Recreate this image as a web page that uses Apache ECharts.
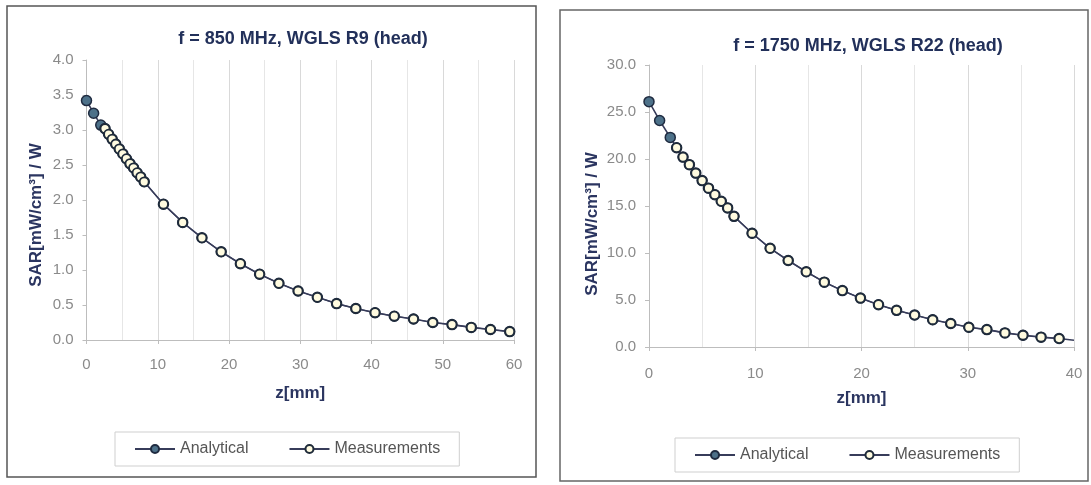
<!DOCTYPE html>
<html>
<head>
<meta charset="utf-8">
<script src="https://cdn.jsdelivr.net/npm/echarts@6/dist/echarts.min.js"></script>
<style>
  html, body { margin: 0; padding: 0; background: #fff; }
  #chart { width: 1091px; height: 485px; }
</style>
</head>
<body>
<div id="chart"></div>
<script>
// f = 850 MHz (left panel)
const leftAnaZ = [0, 1, 2];
const leftAnaV = [3.42, 3.24, 3.07];
const leftMeasZ = [2.6, 3.1, 3.6, 4.1, 4.6, 5.1, 5.6, 6.1, 6.6, 7.1, 7.6, 8.1,
  10.8, 13.5, 16.2, 18.9, 21.6, 24.3, 27.0, 29.7, 32.4, 35.1, 37.8, 40.5,
  43.2, 45.9, 48.6, 51.3, 54.0, 56.7, 59.4];
const leftMeasV = [3.02, 2.94, 2.87, 2.80, 2.73, 2.66, 2.59, 2.52, 2.46, 2.39, 2.33, 2.26,
  1.94, 1.68, 1.46, 1.26, 1.09, 0.94, 0.81, 0.70, 0.61, 0.52, 0.45, 0.39,
  0.34, 0.30, 0.25, 0.22, 0.18, 0.15, 0.12];
const leftTailZ = [60];
const leftTailV = [0.11];

// f = 1750 MHz (right panel)
const rightAnaZ = [0, 1, 2];
const rightAnaV = [26.1, 24.1, 22.3];
const rightMeasZ = [2.6, 3.2, 3.8, 4.4, 5.0, 5.6, 6.2, 6.8, 7.4, 8.0,
  9.7, 11.4, 13.1, 14.8, 16.5, 18.2, 19.9, 21.6, 23.3, 25.0, 26.7, 28.4,
  30.1, 31.8, 33.5, 35.2, 36.9, 38.6];
const rightMeasV = [21.2, 20.2, 19.4, 18.5, 17.7, 16.9, 16.2, 15.5, 14.8, 13.9,
  12.1, 10.5, 9.2, 8.0, 6.9, 6.0, 5.2, 4.5, 3.9, 3.4, 2.9, 2.5,
  2.1, 1.85, 1.5, 1.25, 1.05, 0.9];
const rightTailZ = [40];
const rightTailV = [0.72];

const titles = ['f = 850 MHz, WGLS R9 (head)', 'f = 1750 MHz, WGLS R22 (head)'];
const legendNames = ['Analytical', 'Measurements'];

const lineColor = '#373c5a';
const fontFam = 'Liberation Sans, Arial, sans-serif';

function pairs(zs, vs) {
  return zs.map((z, i) => [z, vs[i]]);
}

// analytical curve runs under the measurement markers, last point has no marker
function analytical(anaZ, anaV, measZ, measV, tailZ, tailV) {
  const pts = pairs(anaZ, anaV).concat(pairs(measZ, measV));
  const tail = pairs(tailZ, tailV).map((p) => ({ value: p, symbol: 'none' }));
  return pts.concat(tail);
}

function xAxis(idx, max, labelMargin, nameGap) {
  return {
    gridIndex: idx,
    type: 'value',
    min: 0,
    max: max,
    interval: 10,
    name: 'z[mm]',
    nameLocation: 'middle',
    nameGap: nameGap,
    nameTextStyle: { fontFamily: fontFam, fontWeight: 'bold', fontSize: 17, color: '#2b3560' },
    axisLine: { lineStyle: { color: '#bdbdbd' } },
    axisTick: { show: true, length: 4, lineStyle: { color: '#bdbdbd' } },
    axisLabel: { margin: labelMargin, fontFamily: fontFam, fontSize: 15, color: '#8a8a8a' },
    splitLine: { show: true, lineStyle: { color: '#d9d9d9' } },
    minorTick: { show: false, splitNumber: 2 },
    minorSplitLine: { show: true, lineStyle: { color: '#e6e6e6' } }
  };
}

function yAxis(idx, max, interval, nameGap, shift) {
  return {
    gridIndex: idx,
    type: 'value',
    min: 0,
    max: max,
    interval: interval,
    name: 'SAR[mW/cm³] / W',
    nameLocation: 'middle',
    nameGap: nameGap,
    nameTextStyle: {
      fontFamily: fontFam, fontWeight: 'bold', fontSize: 17, color: '#2b3560',
      padding: [0, shift, 0, 0]
    },
    axisLine: { show: true, lineStyle: { color: '#bdbdbd' } },
    axisTick: { show: true, length: 4, lineStyle: { color: '#bdbdbd' } },
    axisLabel: {
      margin: 13,
      fontFamily: fontFam,
      fontSize: 15,
      color: '#8a8a8a',
      formatter: (v) => v.toFixed(1)
    },
    splitLine: { show: false }
  };
}

function seriesPair(idx, anaData, measData) {
  return [{
    name: 'Analytical',
    type: 'line',
    xAxisIndex: idx,
    yAxisIndex: idx,
    data: anaData,
    symbol: 'circle',
    symbolSize: 10,
    showSymbol: true,
    itemStyle: { color: '#4d7189', borderColor: '#1f2b40', borderWidth: 1.5 },
    lineStyle: { color: lineColor, width: 1.6 },
    z: 2
  }, {
    name: 'Measurements',
    type: 'line',
    xAxisIndex: idx,
    yAxisIndex: idx,
    data: measData,
    symbol: 'circle',
    symbolSize: 9,
    showSymbol: true,
    itemStyle: { color: '#fffbe0', borderColor: '#1f2b3a', borderWidth: 1.8 },
    lineStyle: { color: lineColor, width: 1.2 },
    z: 3
  }];
}

function legend(left, top) {
  return {
    data: legendNames,
    left: left,
    top: top,
    orient: 'horizontal',
    itemWidth: 40,
    itemHeight: 10,
    itemGap: 40,
    padding: [9, 19, 9, 19],
    borderColor: '#cfcfcf',
    borderWidth: 1,
    textStyle: { fontFamily: fontFam, fontSize: 16, color: '#555' }
  };
}

const chart = echarts.init(document.getElementById('chart'), null, { renderer: 'canvas' });

chart.setOption({
  animation: false,
  backgroundColor: '#fff',
  graphic: [{
    type: 'rect',
    shape: { x: 7, y: 6, width: 529, height: 471 },
    style: { fill: 'none', stroke: '#555', lineWidth: 1.5 },
    silent: true
  }, {
    type: 'rect',
    shape: { x: 560, y: 10, width: 528, height: 471 },
    style: { fill: 'none', stroke: '#666', lineWidth: 1.5 },
    silent: true
  }],
  title: [{
    text: titles[0],
    left: 298,
    top: 25,
    textAlign: 'center',
    textStyle: { fontFamily: fontFam, fontWeight: 'bold', fontSize: 18, color: '#22305a' }
  }, {
    text: titles[1],
    left: 863,
    top: 32,
    textAlign: 'center',
    textStyle: { fontFamily: fontFam, fontWeight: 'bold', fontSize: 18, color: '#22305a' }
  }],
  legend: [
    legend(115, 432),
    legend(675, 438)
  ],
  grid: [
    { left: 86.5, top: 60, width: 427.5, height: 280 },
    { left: 649, top: 65, width: 425, height: 282 }
  ],
  xAxis: [xAxis(0, 60, 17, 45), xAxis(1, 40, 19, 43)],
  yAxis: [yAxis(0, 4, 0.5, 42, 30), yAxis(1, 30, 5, 48, 36)],
  series: seriesPair(0,
      analytical(leftAnaZ, leftAnaV, leftMeasZ, leftMeasV, leftTailZ, leftTailV),
      pairs(leftMeasZ, leftMeasV))
    .concat(seriesPair(1,
      analytical(rightAnaZ, rightAnaV, rightMeasZ, rightMeasV, rightTailZ, rightTailV),
      pairs(rightMeasZ, rightMeasV)))
});
</script>
</body>
</html>
